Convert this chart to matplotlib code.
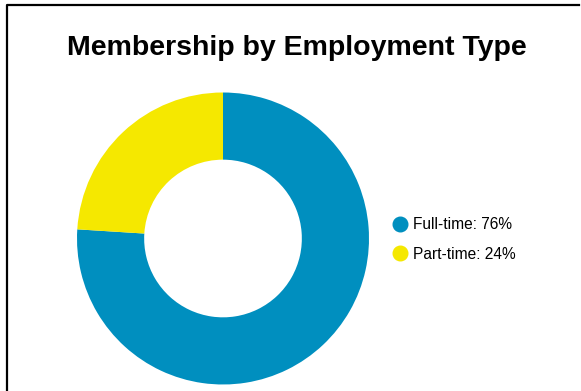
import matplotlib.pyplot as plt
from matplotlib.lines import Line2D

labels = ["Full-time", "Part-time"]
shares = [76, 24]
colors = ["#008fbf", "#f5e800"]
title = "Membership by Employment Type"

plt.rcParams["font.family"] = ["Liberation Sans", "DejaVu Sans"]

W, H = 581, 391
fig = plt.figure(figsize=(W / 100, H / 100), dpi=100)

# donut: centre (223, 238.5) px, outer radius 146 px
cx, cy, r = 223, 238.5, 146
ax = fig.add_axes([(cx - r) / W, (H - cy - r) / H, 2 * r / W, 2 * r / H])
ax.pie(shares, colors=colors, startangle=90, counterclock=False,
       radius=1, wedgeprops=dict(width=0.46, linewidth=0))
ax.set_xlim(-1, 1)
ax.set_ylim(-1, 1)
ax.set_aspect("equal")
ax.axis("off")

fig.text(296.5 / W, 1 - 48 / H, title, ha="center", va="center",
         fontsize=20.5, fontweight="bold")

handles = [Line2D([], [], marker="o", linestyle="none", markersize=10.5,
                  markerfacecolor=c, markeredgecolor=c) for c in colors]
legend_labels = [f"{lab}: {val}%" for lab, val in zip(labels, shares)]
fig.legend(handles, legend_labels, loc="center left",
           bbox_to_anchor=(378.5 / W, 1 - 239.5 / H), frameon=False,
           fontsize=11.2, handletextpad=0.3, labelspacing=0.92,
           handlelength=1.0)

# frame: only left and top edges are visible
fig.add_artist(Line2D([6.5 / W, 6.5 / W, 579 / W], [0, 1 - 4.5 / H, 1 - 4.5 / H],
                      transform=fig.transFigure, color="black", linewidth=1.6))

fig.savefig("out.png", dpi=100)
